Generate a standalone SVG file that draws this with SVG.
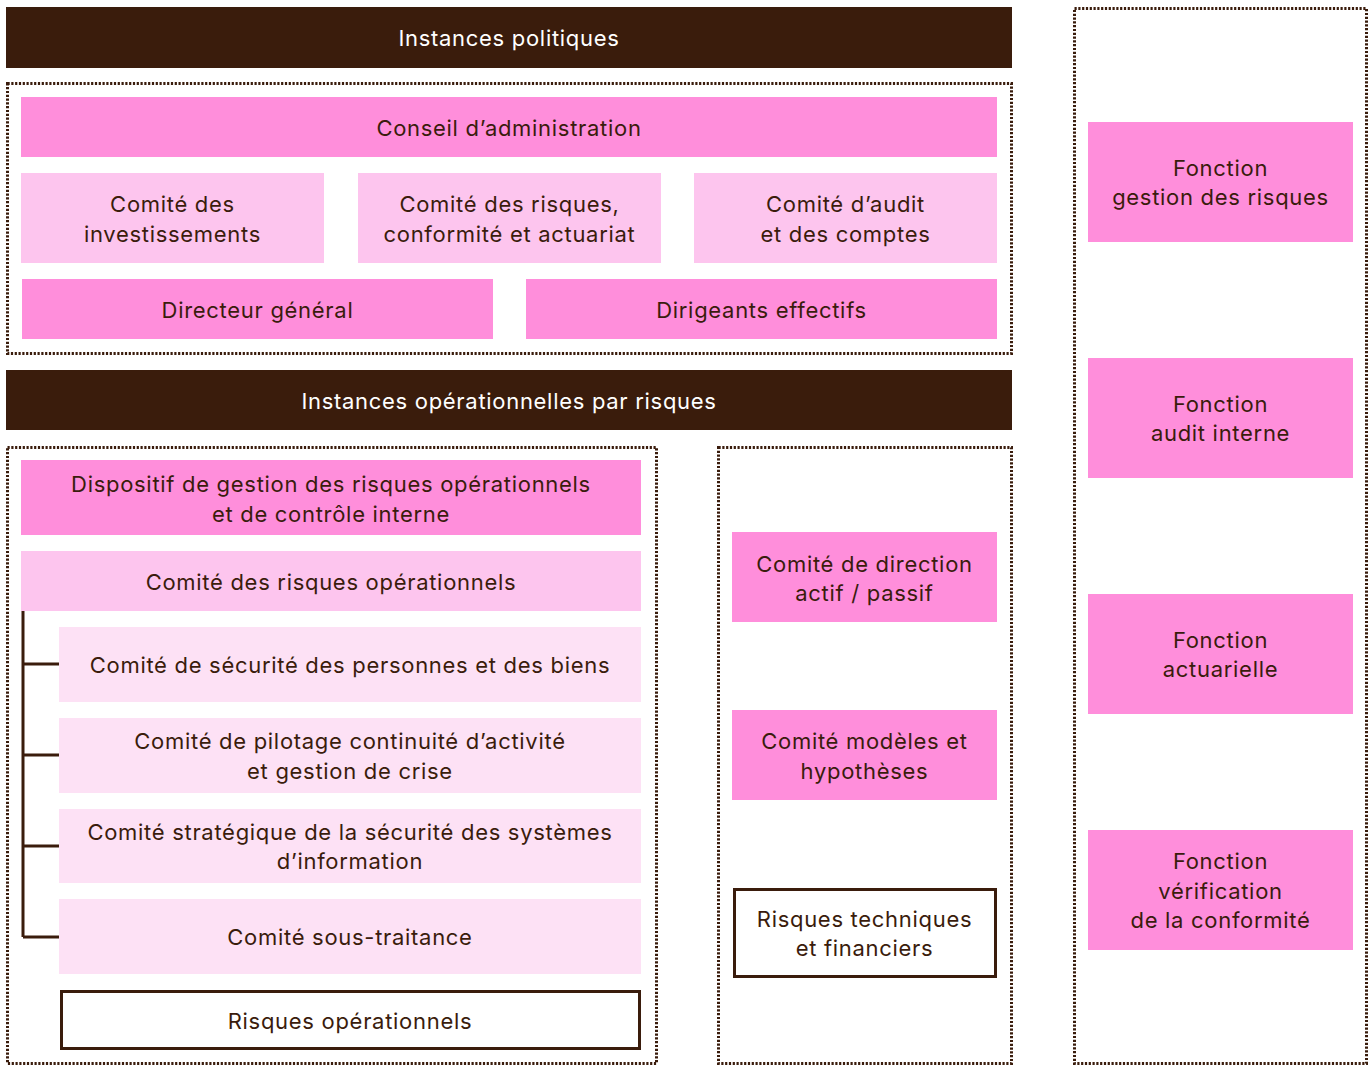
<svg xmlns="http://www.w3.org/2000/svg" width="1369" height="1065" viewBox="0 0 1369 1065">
<style>
text{font-family:Inter,"Liberation Sans",sans-serif;font-size:22px;letter-spacing:0.7px;fill:#3a1c0c;text-anchor:middle;dominant-baseline:central}
.bar{fill:#3a1c0c}
.bar-t{fill:#ffffff}
.dot{fill:none;stroke:#3a1c0c;stroke-width:3;stroke-dasharray:2.2 1.6}
.p1{fill:#ff8edb}
.p2{fill:#fdc5ee}
.p3{fill:#fde1f5}
.out{fill:#ffffff;stroke:#3a1c0c;stroke-width:3}
.ln{stroke:#3a1c0c;stroke-width:3;fill:none}
</style>
<rect width="1369" height="1065" fill="#ffffff"/>
<g id="containers">
<rect class="dot" x="7.5" y="83.5" width="1004" height="270"/>
<rect class="dot" x="7.5" y="447.5" width="649" height="616"/>
<rect class="dot" x="718.5" y="447.5" width="293" height="616"/>
<rect class="dot" x="1074.5" y="8.5" width="292" height="1055"/>
</g>
<g id="bar-politiques"><rect class="bar" x="6" y="7" width="1006" height="61"/><text class="bar-t" x="509" y="38">Instances politiques</text></g>
<g id="conseil"><rect class="p1" x="21" y="97" width="976" height="60"/><text x="509" y="128">Conseil d’administration</text></g>
<g id="comite-invest"><rect class="p2" x="21" y="173" width="303" height="90"/><text x="172.5" y="204">Comité des</text><text x="172.5" y="234">investissements</text></g>
<g id="comite-risques"><rect class="p2" x="358" y="173" width="303" height="90"/><text x="509.5" y="204">Comité des risques,</text><text x="509.5" y="234">conformité et actuariat</text></g>
<g id="comite-audit"><rect class="p2" x="694" y="173" width="303" height="90"/><text x="845.5" y="204">Comité d’audit</text><text x="845.5" y="234">et des comptes</text></g>
<g id="directeur"><rect class="p1" x="22" y="279" width="471" height="60"/><text x="257.5" y="310">Directeur général</text></g>
<g id="dirigeants"><rect class="p1" x="526" y="279" width="471" height="60"/><text x="761.5" y="310">Dirigeants effectifs</text></g>
<g id="bar-operationnelles"><rect class="bar" x="6" y="370" width="1006" height="60"/><text class="bar-t" x="509" y="401">Instances opérationnelles par risques</text></g>
<g id="dispositif"><rect class="p1" x="21" y="460" width="620" height="75"/><text x="331" y="484">Dispositif de gestion des risques opérationnels</text><text x="331" y="514">et de contrôle interne</text></g>
<g id="comite-risques-op"><rect class="p2" x="21" y="551" width="620" height="60"/><text x="331" y="582">Comité des risques opérationnels</text></g>
<g id="connectors">
<path class="ln" d="M23 611V937M23 664H59M23 755H59M23 846H59M23 937H59"/>
</g>
<g id="comite-securite"><rect class="p3" x="59" y="627" width="582" height="75"/><text x="350" y="665">Comité de sécurité des personnes et des biens</text></g>
<g id="comite-pilotage"><rect class="p3" x="59" y="718" width="582" height="75"/><text x="350" y="741">Comité de pilotage continuité d’activité</text><text x="350" y="771">et gestion de crise</text></g>
<g id="comite-ssi"><rect class="p3" x="59" y="809" width="582" height="74"/><text x="350" y="832">Comité stratégique de la sécurité des systèmes</text><text x="350" y="861">d’information</text></g>
<g id="comite-sous-traitance"><rect class="p3" x="59" y="899" width="582" height="75"/><text x="350" y="937">Comité sous-traitance</text></g>
<g id="risques-op"><rect class="out" x="61.5" y="991.5" width="578" height="57"/><text x="350" y="1021">Risques opérationnels</text></g>
<g id="comite-direction"><rect class="p1" x="732" y="532" width="265" height="90"/><text x="864.5" y="564">Comité de direction</text><text x="864.5" y="593">actif / passif</text></g>
<g id="comite-modeles"><rect class="p1" x="732" y="710" width="265" height="90"/><text x="864.5" y="741">Comité modèles et</text><text x="864.5" y="771">hypothèses</text></g>
<g id="risques-tech"><rect class="out" x="734.5" y="889.5" width="261" height="87"/><text x="864.5" y="919">Risques techniques</text><text x="864.5" y="948">et financiers</text></g>
<g id="fonction-risques"><rect class="p1" x="1088" y="122" width="265" height="120"/><text x="1220.5" y="168">Fonction</text><text x="1220.5" y="197">gestion des risques</text></g>
<g id="fonction-audit"><rect class="p1" x="1088" y="358" width="265" height="120"/><text x="1220.5" y="404">Fonction</text><text x="1220.5" y="433">audit interne</text></g>
<g id="fonction-actuarielle"><rect class="p1" x="1088" y="594" width="265" height="120"/><text x="1220.5" y="640">Fonction</text><text x="1220.5" y="669">actuarielle</text></g>
<g id="fonction-conformite"><rect class="p1" x="1088" y="830" width="265" height="120"/><text x="1220.5" y="861">Fonction</text><text x="1220.5" y="891">vérification</text><text x="1220.5" y="920">de la conformité</text></g>
</svg>
